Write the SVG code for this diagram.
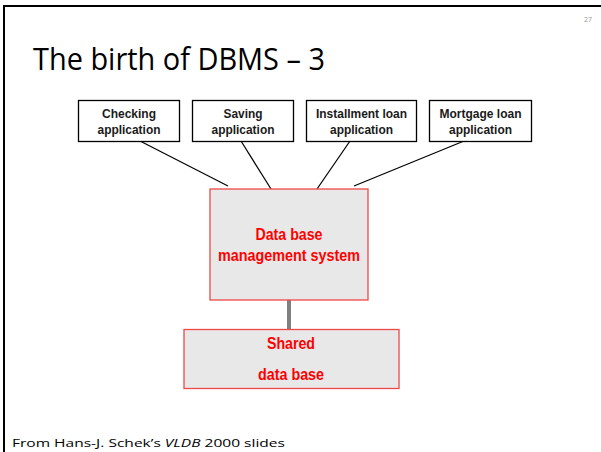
<svg xmlns="http://www.w3.org/2000/svg" width="601" height="452" viewBox="0 0 601 452">
  <style>
    .frame { stroke: #000; stroke-width: 2; fill: none; }
    .app rect { fill: #fff; stroke: #000; stroke-width: 1.3; }
    .app text { font-family: "Liberation Sans", Arial, sans-serif; font-weight: bold; font-size: 13.5px; fill: #1a1a1a; text-anchor: middle; }
    .sys rect { fill: #e8e8e8; stroke: #f04848; stroke-width: 1.3; }
    .sys text { font-family: "Liberation Sans", Arial, sans-serif; font-weight: bold; font-size: 16.5px; fill: #ff0000; text-anchor: middle; }
    .link { stroke: #000; stroke-width: 1.2; }
    .bus { stroke: #808080; stroke-width: 4; }
    .title { font-family: "Open Sans", "Noto Sans", sans-serif; font-size: 31px; fill: #000; }
    .note { font-family: "Open Sans", "Noto Sans", sans-serif; font-size: 11px; fill: #000; }
    .pageno { font-family: "Open Sans", sans-serif; font-size: 7px; fill: #999; }
  </style>

  <rect width="601" height="452" fill="#fff"/>
  <!-- slide frame: top and left edges -->
  <path class="frame" d="M4 452 V6 H601"/>

  <text class="pageno" x="584" y="22">27</text>
  <text class="title" x="33" y="70" textLength="292" lengthAdjust="spacingAndGlyphs">The birth of DBMS – 3</text>

  <g id="connectors">
    <line class="link" x1="140" y1="141" x2="228" y2="186"/>
    <line class="link" x1="241" y1="141" x2="271" y2="189"/>
    <line class="link" x1="350" y1="141" x2="317" y2="189"/>
    <line class="link" x1="464" y1="141" x2="354" y2="186"/>
    <line class="bus" x1="289" y1="300" x2="289" y2="330"/>
  </g>

  <g id="checking" class="app">
    <rect x="78.5" y="100.5" width="101" height="41"/>
    <text x="129" y="118" textLength="54" lengthAdjust="spacingAndGlyphs">Checking</text>
    <text x="129" y="134" textLength="63" lengthAdjust="spacingAndGlyphs">application</text>
  </g>
  <g id="saving" class="app">
    <rect x="192.5" y="100.5" width="101" height="41"/>
    <text x="243" y="118" textLength="39" lengthAdjust="spacingAndGlyphs">Saving</text>
    <text x="243" y="134" textLength="63" lengthAdjust="spacingAndGlyphs">application</text>
  </g>
  <g id="installment" class="app">
    <rect x="306.5" y="100.5" width="110" height="41"/>
    <text x="361.5" y="118" textLength="91" lengthAdjust="spacingAndGlyphs">Installment loan</text>
    <text x="361.5" y="134" textLength="63" lengthAdjust="spacingAndGlyphs">application</text>
  </g>
  <g id="mortgage" class="app">
    <rect x="429.5" y="100.5" width="102" height="41"/>
    <text x="480.5" y="118" textLength="82" lengthAdjust="spacingAndGlyphs">Mortgage loan</text>
    <text x="480.5" y="134" textLength="63" lengthAdjust="spacingAndGlyphs">application</text>
  </g>

  <g id="dbms" class="sys">
    <rect x="210" y="189" width="158" height="111"/>
    <text x="289" y="240" textLength="67" lengthAdjust="spacingAndGlyphs">Data base</text>
    <text x="289" y="261" textLength="142" lengthAdjust="spacingAndGlyphs">management system</text>
  </g>

  <g id="shared-db" class="sys">
    <rect x="184" y="329.5" width="215" height="59"/>
    <text x="291" y="349" textLength="48" lengthAdjust="spacingAndGlyphs">Shared</text>
    <text x="291" y="380" textLength="66" lengthAdjust="spacingAndGlyphs">data base</text>
  </g>

  <text class="note" x="12" y="447" textLength="273" lengthAdjust="spacingAndGlyphs">From Hans-J. Schek’s <tspan font-style="italic">VLDB</tspan> 2000 slides</text>
</svg>
